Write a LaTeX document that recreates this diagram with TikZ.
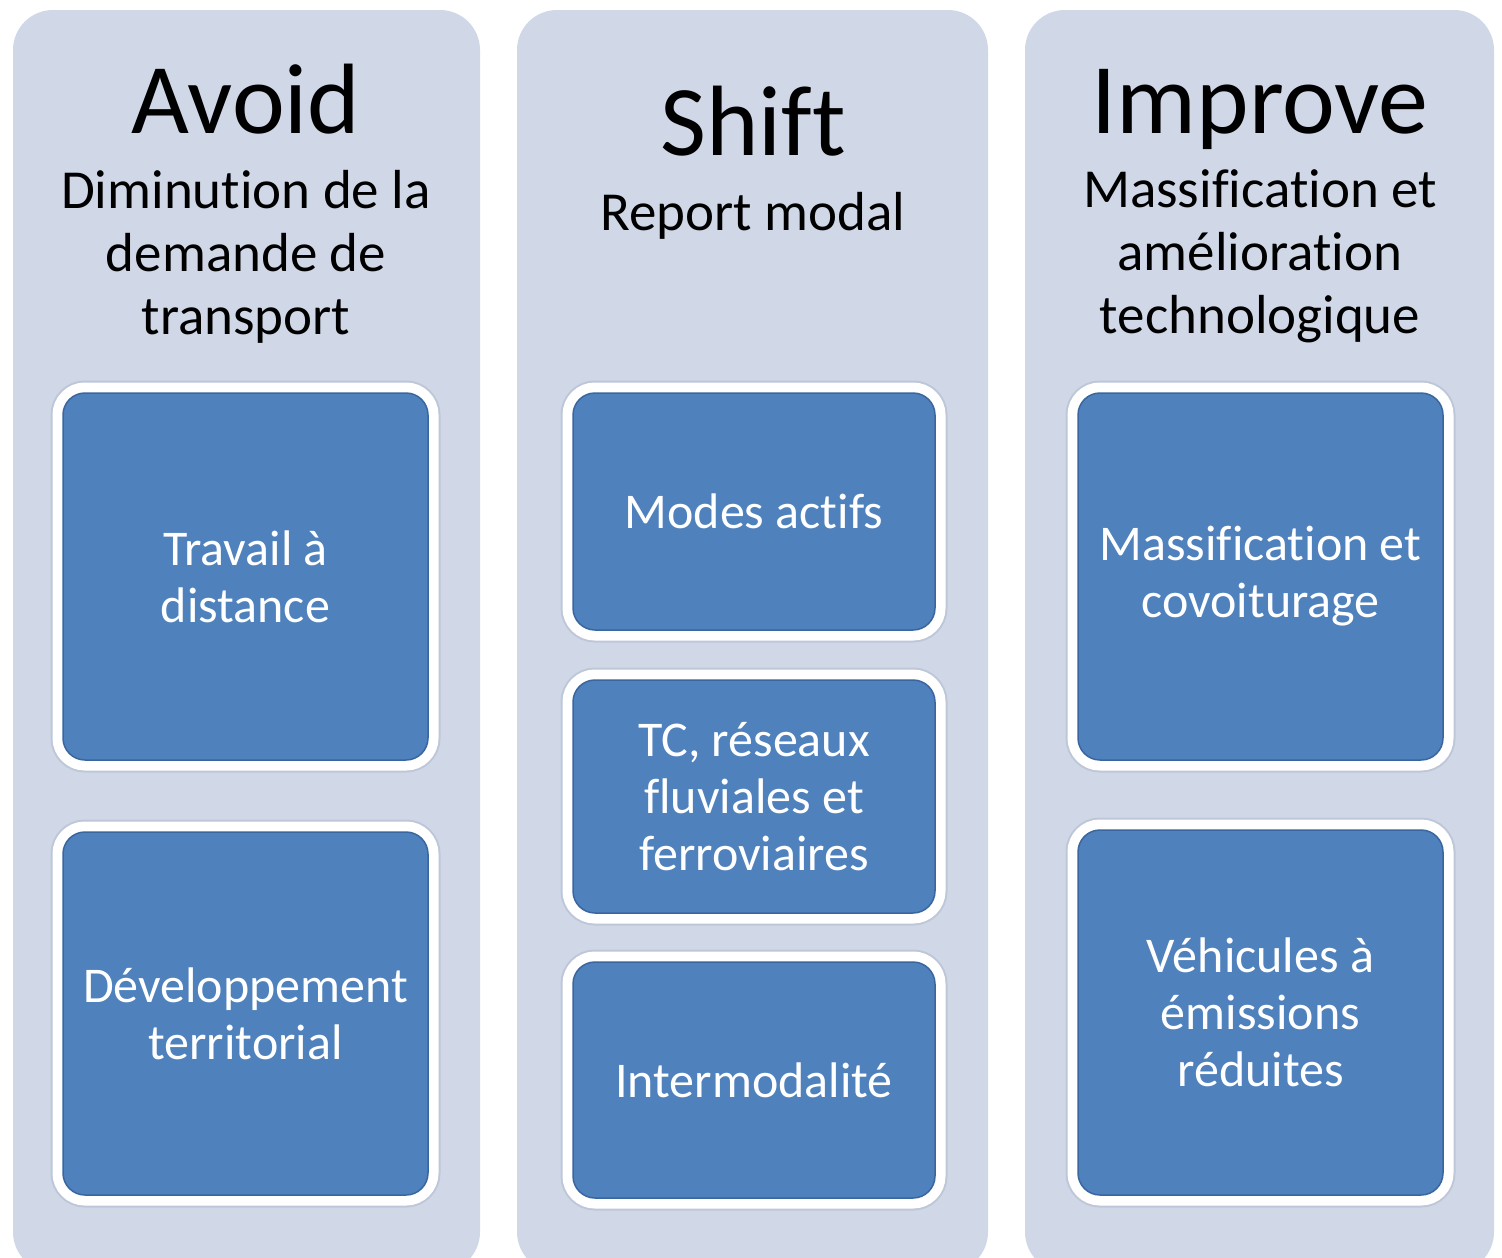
\documentclass[tikz,border=0pt]{standalone}
\usepackage{fontspec}
\setmainfont{Carlito}[Ligatures=NoCommon]

\definecolor{colfill}{HTML}{D0D8E8}
\definecolor{boxblue}{HTML}{4F81BD}
\definecolor{boxedge}{HTML}{3A66A0}
\definecolor{rimgray}{HTML}{BEC7D8}

\tikzset{
  column/.style={fill=colfill, rounded corners=40pt},
  titletext/.style={font=\fontsize{100}{110}\selectfont, text=black,
    anchor=base, inner sep=0pt},
  subtext/.style={font=\fontsize{55}{63}\selectfont, text=black,
    align=center, anchor=base, inner sep=0pt},
  itembox/.style={rectangle, rounded corners=22pt, fill=boxblue,
    draw=boxedge, line width=1.5pt,
    preaction={draw=rimgray, line width=25pt},
    preaction={draw=white, line width=21pt},
    text=white, align=center, inner sep=0pt,
    font=\fontsize{50}{57}\selectfont},
}

\begin{document}
\begin{tikzpicture}[x=1pt, y=-1pt]
  \useasboundingbox (0,0) rectangle (1502,1258);
  \clip (0,0) rectangle (1502,1258);
  \fill[white] (0,0) rectangle (1502,1258);

  % three background columns
  \path[column] (13,10) rectangle (480,1272);
  \path[column] (517,10) rectangle (988,1272);
  \path[column] (1025,10) rectangle (1494,1272);

  % column headings (multi-line nodes sit on their last baseline)
  \node[titletext] (avoid) at (246,133) {Avoid};
  \node[subtext] (avoidsub) at (246,334) {Diminution de la\\demande de\\transport};

  \node[titletext] (shift) at (753,155) {Shift};
  \node[subtext] (shiftsub) at (753,230) {Report modal};

  \node[titletext] (improve) at (1260,133) {Improve};
  \node[subtext] (improvesub) at (1260,333) {Massification et\\amélioration\\technologique};

  % measures under each heading
  \node[itembox, minimum width=365pt, minimum height=367pt] (a1) at (245.5,576.5)
    {Travail à\\distance};
  \node[itembox, minimum width=365pt, minimum height=363pt] (a2) at (245.5,1013.5)
    {Développement\\territorial};

  \node[itembox, minimum width=362pt, minimum height=237pt] (s1) at (754,511.5)
    {Modes actifs};
  \node[itembox, minimum width=362pt, minimum height=233pt] (s2) at (754,796.5)
    {TC, réseaux\\fluviales et\\ferroviaires};
  \node[itembox, minimum width=362pt, minimum height=236pt] (s3) at (754,1080)
    {Intermodalité};

  \node[itembox, minimum width=365pt, minimum height=367pt] (i1) at (1260.5,576.5)
    {Massification et\\covoiturage};
  \node[itembox, minimum width=365pt, minimum height=365pt] (i2) at (1260.5,1012.5)
    {Véhicules à\\émissions\\réduites};
\end{tikzpicture}
\end{document}
